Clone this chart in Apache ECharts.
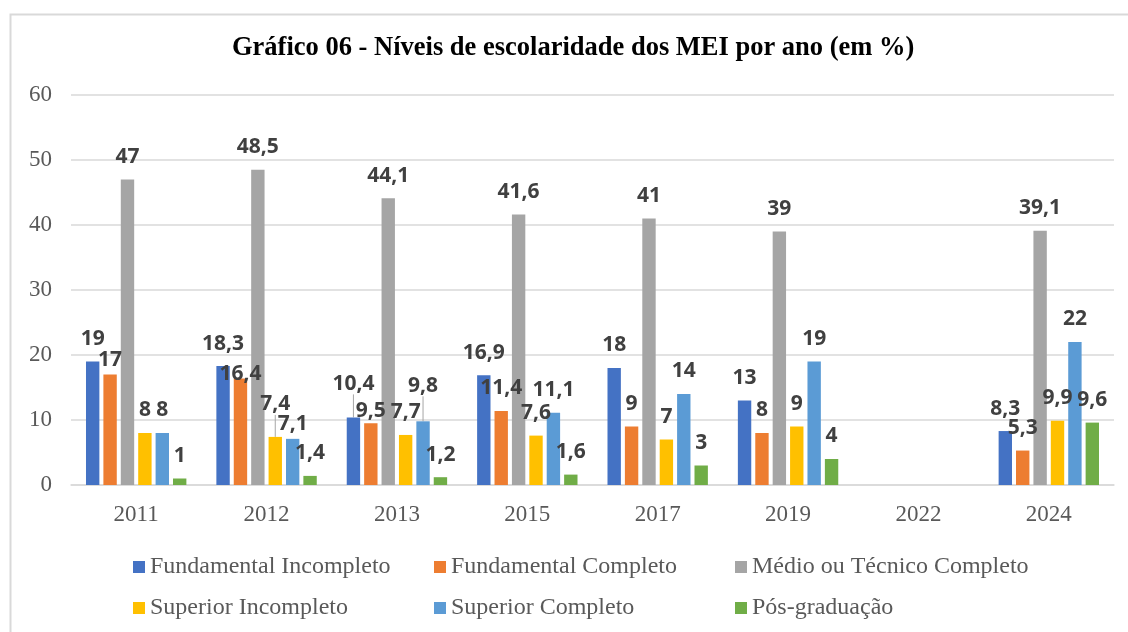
<!DOCTYPE html>
<html>
<head>
<meta charset="utf-8">
<script src="https://cdn.jsdelivr.net/npm/echarts@6/dist/echarts.min.js"></script>
<style>
  html, body { margin: 0; padding: 0; background: #fff; }
  #chart { width: 1128px; height: 632px; }
</style>
</head>
<body>
<div id="chart"></div>
<script>
const anos = ["2011", "2012", "2013", "2015", "2017", "2019", "2022", "2024"];
const fundamentalIncompleto = [19, 18.3, 10.4, 16.9, 18, 13, null, 8.3];
const fundamentalCompleto = [17, 16.4, 9.5, 11.4, 9, 8, null, 5.3];
const medioTecnico = [47, 48.5, 44.1, 41.6, 41, 39, null, 39.1];
const superiorIncompleto = [8, 7.4, 7.7, 7.6, 7, 9, null, 9.9];
const superiorCompleto = [8, 7.1, 9.8, 11.1, 14, 19, null, 22];
const posGraduacao = [1, 1.4, 1.2, 1.6, 3, 4, null, 9.6];

const nomes = [
  "Fundamental Incompleto",
  "Fundamental Completo",
  "Médio ou Técnico Completo",
  "Superior Incompleto",
  "Superior Completo",
  "Pós-graduação"
];
const valores = [fundamentalIncompleto, fundamentalCompleto, medioTecnico,
  superiorIncompleto, superiorCompleto, posGraduacao];
const cores = ["#4472c4", "#ed7d31", "#a5a5a5", "#ffc000", "#5b9bd5", "#70ad47"];

// labels that Excel had moved by hand: "serie-ponto" -> vertical shift
const deslocados = { "1-0": 8, "1-1": 18, "3-1": -10, "4-1": 8, "0-2": -11, "1-2": 10, "4-2": -13 };
const comLinha = ["3-1", "0-2", "4-2"];

const serif = "'Liberation Serif', 'Times New Roman', serif";

function mapToSerie(vals, i) {
  return {
    name: nomes[i],
    type: "bar",
    barGap: "30%",
    barCategoryGap: "23%",
    itemStyle: { color: cores[i] },
    data: vals.map((v, j) => {
      const item = { value: v };
      if (comLinha.includes(i + "-" + j)) {
        item.labelLine = { show: true, lineStyle: { color: "#a6a6a6", width: 1 } };
      }
      return item;
    }),
    label: {
      show: true,
      position: "top",
      distance: 12,
      color: "#404040",
      fontFamily: "'Open Sans', sans-serif",
      fontWeight: "bold",
      fontSize: 21,
      formatter: p => (p.value == null ? "" : String(p.value).replace(".", ","))
    },
    labelLayout: p => {
      const dy = deslocados[p.seriesIndex + "-" + p.dataIndex];
      return dy ? { dy: dy } : {};
    }
  };
}

function legenda(itens, x) {
  return {
    orient: "vertical",
    left: x,
    top: 555,
    padding: 0,
    itemWidth: 12,
    itemHeight: 12,
    itemGap: 17,
    icon: "rect",
    data: itens,
    textStyle: { fontFamily: serif, fontSize: 24, color: "#595959" }
  };
}

const myChart = echarts.init(document.getElementById("chart"));
const option = {
  animation: false,
  title: {
    text: "Gráfico 06 - Níveis de escolaridade dos MEI por ano (em %)",
    left: 232,
    top: 35,
    padding: 0,
    textStyle: { fontFamily: serif, fontWeight: "bold", fontSize: 26.5, color: "#000" }
  },
  graphic: [{
    type: "rect",
    left: 8,
    top: 12,
    shape: { width: 1140, height: 640 },
    style: { fill: "none", stroke: "#d9d9d9", lineWidth: 2 },
    silent: true
  }],
  legend: [
    legenda([nomes[0], nomes[3]], 133),
    legenda([nomes[1], nomes[4]], 434),
    legenda([nomes[2], nomes[5]], 735)
  ],
  grid: { left: 71, right: 14, top: 95, bottom: 147 },
  xAxis: {
    type: "category",
    data: anos,
    axisTick: { show: false },
    axisLine: { lineStyle: { color: "#d9d9d9", width: 1.5 } },
    axisLabel: { fontFamily: serif, fontSize: 23, color: "#595959", margin: 18 }
  },
  yAxis: {
    type: "value",
    min: 0,
    max: 60,
    interval: 10,
    axisLine: { show: false },
    axisTick: { show: false },
    splitLine: { lineStyle: { color: "#d9d9d9", width: 1.5 } },
    axisLabel: { fontFamily: serif, fontSize: 23, color: "#595959", margin: 19 }
  },
  series: valores.map(mapToSerie)
};
myChart.setOption(option);
</script>
</body>
</html>
